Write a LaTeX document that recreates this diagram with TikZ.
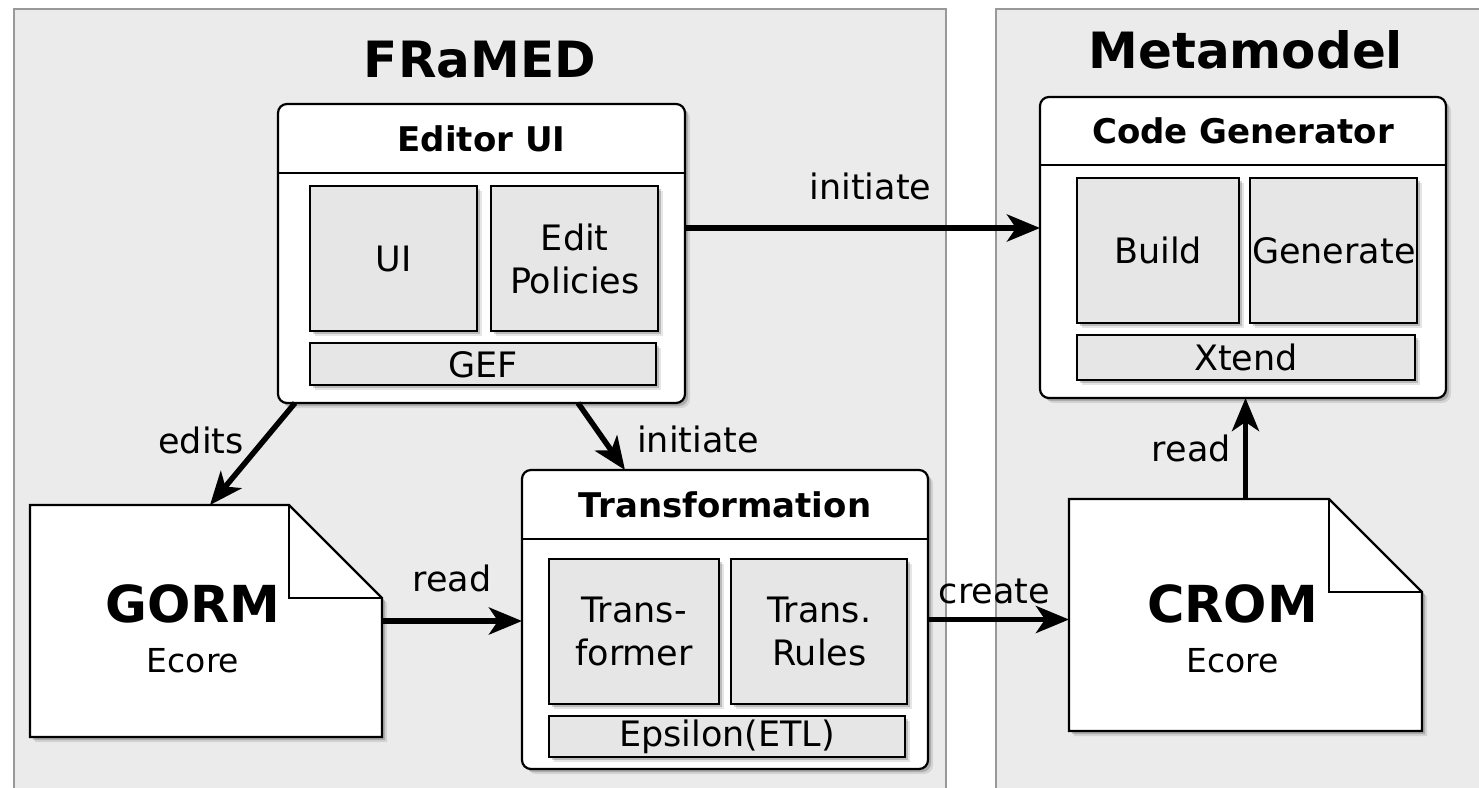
\documentclass[tikz,border=0pt]{standalone}
\usepackage{fontspec}
\setmainfont{DejaVu Sans}
\usetikzlibrary{arrows.meta,positioning,calc,shadows}
\definecolor{panelfill}{HTML}{EBEBEB}
\definecolor{panelline}{HTML}{999999}
\definecolor{partfill}{HTML}{E6E6E6}
\tikzset{
  panel/.style={rectangle,draw=panelline,line width=1.5pt,fill=panelfill,anchor=north west,inner sep=0pt},
  paneltitle/.style={font=\fontsize{50}{60}\selectfont\bfseries,inner sep=0pt},
  softshadow/.style={drop shadow={shadow xshift=5pt,shadow yshift=-5pt,opacity=0.10,fill=black},drop shadow={shadow xshift=3pt,shadow yshift=-3pt,opacity=0.18,fill=black}},
  component/.style={rectangle,rounded corners=9pt,draw=black,line width=2.2pt,fill=white,anchor=north west,outer sep=0pt,softshadow},
  comptitle/.style={font=\fontsize{34}{40}\selectfont\bfseries,inner sep=0pt},
  part/.style={rectangle,draw=black,line width=2.2pt,fill=partfill,align=center,inner sep=0pt,font=\fontsize{35}{43}\selectfont,softshadow},
  docpage/.style={rectangle,outer sep=0pt,inner sep=0pt},
  docline/.style={draw=black,line width=2.2pt,fill=white,softshadow},
  doctext/.style={align=center,inner sep=0pt,font=\fontsize{33}{50}\selectfont},
  arrow/.style={-{Stealth[length=33pt,width=27pt,inset=9pt]},line width=5.5pt},
  flowlabel/.style={font=\fontsize{35}{42}\selectfont,inner sep=2pt}
}

\begin{document}
\begin{tikzpicture}[x=1pt,y=-1pt,node distance=10pt]
  \useasboundingbox (0,0) rectangle (1479,787);
  \clip (0,0) rectangle (1479,787);
  % panels
  \node[panel,minimum width=932pt,minimum height=800pt] (framed) at (13,8) {};
  \node[panel,minimum width=500pt,minimum height=800pt] (meta) at (995,8) {};
  \node[paneltitle] (framedtitle) at ([yshift=-52pt]framed.north) {FRaMED};
  \node[paneltitle] (metatitle) at ([yshift=-42pt]meta.north) {Metamodel};

  % editor
  \node[component,minimum width=407pt,minimum height=299pt] (editor) at (278,104) {};
  \draw[line width=2.2pt] ([yshift=-69pt]editor.north west) -- ([yshift=-69pt]editor.north east);
  \node[comptitle] (editortitle) at ([yshift=-34.5pt]editor.north) {Editor UI};
  \node[part,minimum width=167pt,minimum height=145pt,below right=81pt and 31pt of editor.north west] (ui) {UI};
  \node[part,minimum width=167pt,minimum height=145pt,right=12pt of ui] (policies) {Edit\\Policies};
  \node[part,minimum width=346pt,minimum height=42pt,below right=10pt and 0pt of ui.south west] (gef) {GEF};

  % code generator
  \node[component,minimum width=406pt,minimum height=301pt] (codegen) at (1040,97) {};
  \draw[line width=2.2pt] ([yshift=-68pt]codegen.north west) -- ([yshift=-68pt]codegen.north east);
  \node[comptitle] (codegentitle) at ([yshift=-34pt]codegen.north) {Code Generator};
  \node[part,minimum width=162pt,minimum height=145pt,below right=80pt and 36pt of codegen.north west] (build) {Build};
  \node[part,minimum width=167pt,minimum height=145pt,right=9pt of build] (generate) {Generate};
  \node[part,minimum width=338pt,minimum height=45pt,below right=10pt and 0pt of build.south west] (xtend) {Xtend};

  % transformation
  \node[component,minimum width=406pt,minimum height=299pt] (trans) at (522,470) {};
  \draw[line width=2.2pt] ([yshift=-69pt]trans.north west) -- ([yshift=-69pt]trans.north east);
  \node[comptitle] (transtitle) at ([yshift=-34.5pt]trans.north) {Transformation};
  \node[part,minimum width=170pt,minimum height=145pt,below right=88pt and 26pt of trans.north west] (transformer) {Trans-\\former};
  \node[part,minimum width=176pt,minimum height=145pt,right=10pt of transformer] (rules) {Trans.\\Rules};
  \node[part,minimum width=356pt,minimum height=41pt,below right=10pt and 0pt of transformer.south west] (epsilon) {Epsilon(ETL)};

  % models
  \node[docpage,minimum width=352pt,minimum height=232pt] (gorm) at (206,621) {};
  \draw[docline] (gorm.south west) -- (gorm.north west) -- ([xshift=-93pt]gorm.north east) -- ([yshift=-93pt]gorm.north east) -- (gorm.south east) -- cycle;
  \draw[line width=2.2pt] ([xshift=-93pt]gorm.north east) |- ([yshift=-93pt]gorm.north east);
  \node[doctext] (gormtext) at ([xshift=-13pt,yshift=-8pt]gorm.center) {{\fontsize{51}{51}\selectfont\bfseries GORM}\\Ecore};

  \node[docpage,minimum width=353pt,minimum height=232pt] (crom) at (1245.5,615) {};
  \draw[docline] (crom.south west) -- (crom.north west) -- ([xshift=-93pt]crom.north east) -- ([yshift=-93pt]crom.north east) -- (crom.south east) -- cycle;
  \draw[line width=2.2pt] ([xshift=-93pt]crom.north east) |- ([yshift=-93pt]crom.north east);
  \node[doctext] (cromtext) at ([xshift=-13pt,yshift=-14pt]crom.center) {{\fontsize{51}{51}\selectfont\bfseries CROM}\\Ecore};

  % connectors
  \draw[arrow] ([yshift=25.5pt]editor.east) -- node[flowlabel,above=23pt,xshift=8pt] (initlabel) {initiate} ([yshift=19.5pt]codegen.west);
  \draw[arrow] ([xshift=17pt]editor.south west) -- node[flowlabel,left=4pt,yshift=14pt] (editslabel) {edits} ([xshift=4pt]gorm.north);
  \draw[arrow] ([xshift=96.5pt]editor.south) -- node[flowlabel,right=31pt,yshift=-3pt] (translabel) {initiate} ([xshift=-100pt]trans.north);
  \draw[arrow] (gorm.east) -- node[flowlabel,above=24pt] (gormlabel) {read} (gorm.east -| trans.west);
  \draw[arrow] (trans.east) -- node[flowlabel,above=11pt,xshift=-4pt] (createlabel) {create} (trans.east -| crom.west);
  \draw[arrow] (crom.north) -- node[flowlabel,left=10pt] (cromlabel) {read} (crom.north |- codegen.south);
\end{tikzpicture}
\end{document}
